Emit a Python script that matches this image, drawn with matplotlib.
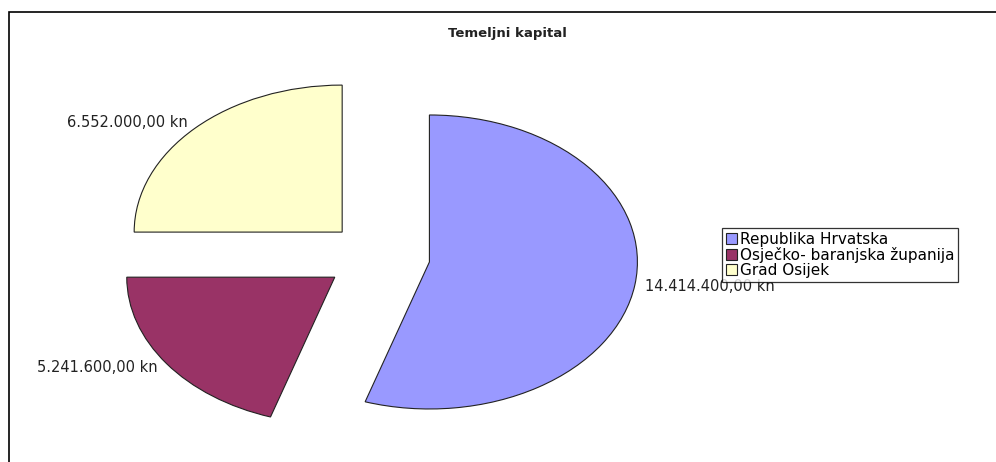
import matplotlib.pyplot as plt
from matplotlib.patches import Rectangle

plt.rcParams['font.family'] = ['DejaVu Sans']

# data
categories = ['Republika Hrvatska', 'Osječko- baranjska županija', 'Grad Osijek']
amounts = [14414400.00, 5241600.00, 6552000.00]
colors = ['#9999FF', '#993366', '#FFFFCC']
explode = [0.26, 0.245, 0.23]


def kn(value):
    # croatian number format: 14.414.400,00 kn
    s = '{:,.2f}'.format(value)
    s = s.replace(',', 'X').replace('.', ',').replace('X', '.')
    return s + ' kn'


fig = plt.figure(figsize=(9.96, 4.62), dpi=100)
ax = fig.add_axes([0, 0, 1, 1])

wedges, texts = ax.pie(amounts, labels=[kn(v) for v in amounts], colors=colors,
                       explode=explode, startangle=90, counterclock=False,
                       labeldistance=1.05,
                       wedgeprops=dict(edgecolor='#222222', linewidth=0.8),
                       textprops=dict(fontsize=10.5, color='#222222'))

# pie centre at px (376, 256), radii 208 x 147 px
ax.set_aspect('auto')
ax.set_xlim(-376 / 208, (996 - 376) / 208)
ax.set_ylim((256 - 462) / 147, 256 / 147)
ax.axis('off')

fig.text(507 / 996, 1 - 33 / 462, 'Temeljni kapital', ha='center', va='center',
         fontsize=9.5, fontweight='bold', color='#222222')

leg = fig.legend(wedges, categories, loc='upper left',
                 bbox_to_anchor=(722 / 996, 1 - 228 / 462), borderaxespad=0,
                 fontsize=11, frameon=True, fancybox=False, shadow=False,
                 handlelength=0.7, handleheight=0.7, handletextpad=0.2,
                 labelspacing=0.0, borderpad=0.25)
leg.get_frame().set_edgecolor('black')
leg.get_frame().set_linewidth(0.9)

# outer frame of the chart (right and bottom edges are cut off)
fig.patches.append(Rectangle((9 / 996, -0.1), 1.2, 1.1 - 12 / 462,
                             transform=fig.transFigure, fill=False,
                             edgecolor='black', linewidth=1.2))

fig.savefig('out.png', dpi=100)
